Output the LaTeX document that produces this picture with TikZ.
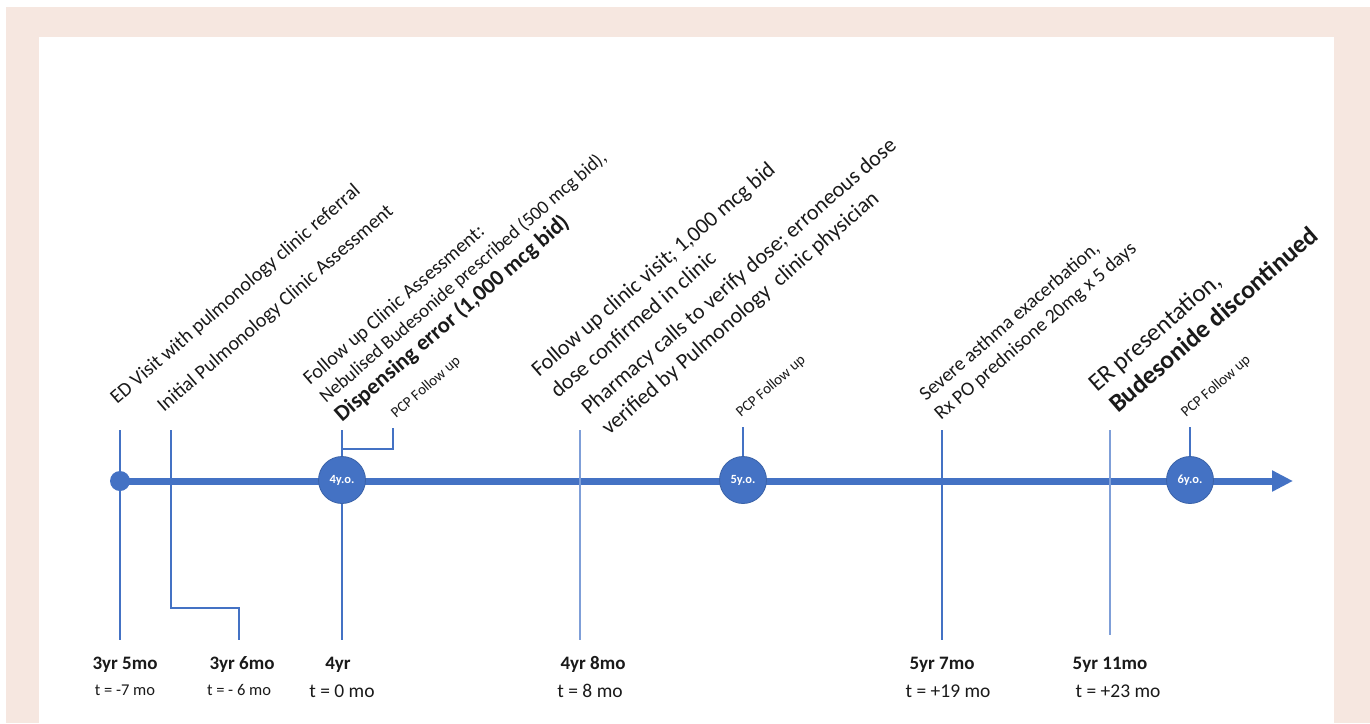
\documentclass[tikz,border=0pt]{standalone}
\usepackage{fontspec}
\setmainfont{Carlito}
\usetikzlibrary{arrows.meta}
\definecolor{tlblue}{HTML}{4472C4}
\definecolor{tllight}{HTML}{7F9FD8}
\definecolor{framepink}{HTML}{F6E7E0}
\definecolor{circedge}{HTML}{3A62A8}
\definecolor{txt}{HTML}{1A1A1A}
\begin{document}
\begin{tikzpicture}[x=1pt,y=-1pt,
  evt/.style={anchor=base west, rotate=41, inner sep=0pt, text=txt},
  fsA/.style={font=\fontsize{20}{24}\selectfont},
  fsAs/.style={font=\fontsize{19}{23}\selectfont},
  fsB/.style={font=\fontsize{22}{26}\selectfont},
  fsC/.style={font=\fontsize{19.8}{24}\selectfont},
  fsBig/.style={font=\fontsize{25}{30}\selectfont},
  fsBold/.style={font=\bfseries\fontsize{22.5}{27}\selectfont},
  fsBoldBig/.style={font=\bfseries\fontsize{25.5}{30}\selectfont},
  pcp/.style={anchor=base west, rotate=41, inner sep=0pt, text=txt, font=\fontsize{15}{18}\selectfont},
  tick/.style={draw=tlblue, line width=1.6pt},
  ticklight/.style={draw=tllight, line width=1.6pt},
  agecirc/.style={circle, fill=tlblue, draw=circedge, line width=0.8pt, minimum size=47pt, inner sep=0pt, text=white, font=\bfseries\fontsize{12.5}{14}\selectfont},
  datelab/.style={anchor=base, inner sep=0pt, text=txt, font=\bfseries\fontsize{19}{22}\selectfont},
  tsmall/.style={anchor=base, inner sep=0pt, text=txt, font=\fontsize{16.5}{19}\selectfont},
  tlarge/.style={anchor=base, inner sep=0pt, text=txt, font=\fontsize{19.5}{22}\selectfont}
]
\useasboundingbox (0,0) rectangle (1370,723);
\fill[white] (0,0) rectangle (1370,723);
\fill[framepink] (6,7) rectangle (1370,723);
\fill[white] (39,37) rectangle (1334,723);

% axis
\node[circle, fill=tlblue, minimum size=20pt, inner sep=0pt] (dot) at (120,481) {};
\coordinate (tip) at (1293,481);
\draw[tlblue, line width=7pt, -{Triangle[length=21pt,width=20pt]}] (dot.center) -- (tip);

% tick coordinates
\coordinate (a1) at (120,430); \coordinate (a2) at (120,640);
\coordinate (b1) at (171,430); \coordinate (b2) at (171,608); \coordinate (b3) at (239,608); \coordinate (b4) at (239,640);
\coordinate (c1) at (342,430); \coordinate (c2) at (342,640);
\coordinate (p1) at (342,449); \coordinate (p2) at (393,449); \coordinate (p3) at (393,428);
\coordinate (d1) at (580,430); \coordinate (d2) at (580,640);
\coordinate (e1) at (743,427);
\coordinate (f1) at (942,430); \coordinate (f2) at (942,640);
\coordinate (g1) at (1110,430); \coordinate (g2) at (1110,635);
\coordinate (h1) at (1190,427);

\node[agecirc] (y4) at (342,480) {4y.o.};
\node[agecirc] (y5) at (743,480) {5y.o.};
\node[agecirc] (y6) at (1190,480) {6y.o.};

\draw[tick] (a1) -- (a2);
\draw[tick] (b1) -- (b2) -- (b3) -- (b4);
\draw[tick] (c1) -- (y4.north);
\draw[tick] (y4.south) -- (c2);
\draw[tick] (p1) -- (p2) -- (p3);
\draw[ticklight] (d1) -- (d2);
\draw[tick] (e1) -- (y5.north);
\draw[tick] (f1) -- (f2);
\draw[ticklight] (g1) -- (g2);
\draw[tick] (h1) -- (y6.north);

% event texts
\node[evt, fsA] (ev1) at (117,405) {ED Visit with pulmonology clinic referral};
\node[evt, fsA] (ev2) at (164,413) {Initial Pulmonology Clinic Assessment};
\node[evt, fsA] (ev3a) at (310,386) {Follow up Clinic Assessment:};
\node[evt, fsAs] (ev3b) at (326,404) {Nebulised Budesonide prescribed (500 mcg bid),};
\node[evt, fsBold] (ev3c) at (342,423) {Dispensing error (1,000 mcg bid)};
\node[pcp] (pcp1) at (396,419) {PCP Follow up};
\node[evt, fsB] (ev4a) at (539,378) {Follow up clinic visit; 1,000 mcg bid};
\node[evt, fsB] (ev4b) at (558,399) {dose confirmed in clinic};
\node[evt, fsB] (ev5a) at (589,416) {Pharmacy calls to verify dose; erroneous dose};
\node[evt, fsB] (ev5b) at (609,436) {verified by Pulmonology\ \ clinic physician};
\node[pcp] (pcp2) at (741,418) {PCP Follow up};
\node[evt, fsC] (ev6a) at (926,402) {Severe asthma exacerbation,};
\node[evt, fsC] (ev6b) at (941,421) {Rx PO prednisone 20mg x 5 days};
\node[evt, fsBig] (ev7a) at (1097,393) {ER presentation,};
\node[evt, fsBoldBig] (ev7b) at (1118,414) {Budesonide discontinued};
\node[pcp] (pcp3) at (1186,418) {PCP Follow up};

% date labels
\node[datelab] (l1) at (125,669) {3yr 5mo};
\node[tsmall] (m1) at (125,695) {t = -7 mo};
\node[datelab] (l2) at (242,669) {3yr 6mo};
\node[tsmall] (m2) at (239,695) {t = - 6 mo};
\node[datelab] (l3) at (338,669) {4yr};
\node[tlarge] (m3) at (342,697) {t = 0 mo};
\node[datelab] (l4) at (593,669) {4yr 8mo};
\node[tlarge] (m4) at (590,697) {t = 8 mo};
\node[datelab] (l5) at (942,669) {5yr 7mo};
\node[tlarge] (m5) at (948,697) {t = +19 mo};
\node[datelab] (l6) at (1110,669) {5yr 11mo};
\node[tlarge] (m6) at (1118,697) {t = +23 mo};
\end{tikzpicture}
\end{document}
